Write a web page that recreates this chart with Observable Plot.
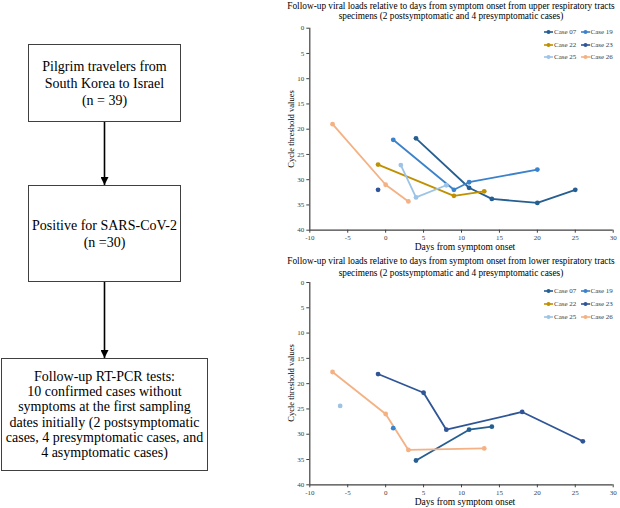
<!DOCTYPE html>
<html>
<head>
<meta charset="utf-8">
<script src="https://cdn.jsdelivr.net/npm/d3@7"></script>
<script src="https://cdn.jsdelivr.net/npm/@observablehq/plot@0.6"></script>
<style>
  html, body { margin: 0; padding: 0; background: #fff; }
  #root { position: relative; width: 620px; height: 508px; overflow: hidden; font-family: "Liberation Serif", "Times New Roman", serif; color: #000; }
  .box { position: absolute; border: 1px solid #404040; box-sizing: border-box; display: flex; align-items: center; justify-content: center; text-align: center; font-size: 14px; }
  .t { position: absolute; white-space: nowrap; transform: translate(-50%, -50%); }
  .leg { position: absolute; font-size: 7px; color: #404040; white-space: nowrap; display: flex; align-items: center; }
  .plot { position: absolute; }
  #root svg text { font-family: "Liberation Serif", "Times New Roman", serif; }
</style>
</head>
<body>
<div id="root"></div>
<script>
// ---------- data ----------
const cases = ["Case 07", "Case 19", "Case 22", "Case 23", "Case 25", "Case 26"];
const caseColors = ["#255E91", "#3A82CB", "#BF9000", "#2F5597", "#9DC3E6", "#F4B183"];
const xTicks = [-10, -5, 0, 5, 10, 15, 20, 25, 30];
const yTicks = [0, 5, 10, 15, 20, 25, 30, 35, 40];

// Upper respiratory tract specimens (days from symptom onset, Ct value)
const upper07Days = [4, 11, 14, 20, 25];
const upper07Ct   = [21.8, 31.6, 33.8, 34.6, 32.0];
const upper19Days = [1, 9, 11, 20];
const upper19Ct   = [22.1, 32.0, 30.5, 28.0];
const upper22Days = [-1, 9, 13];
const upper22Ct   = [27.0, 33.2, 32.3];
const upper23Days = [-1];
const upper23Ct   = [32.0];
const upper25Days = [2, 4, 8];
const upper25Ct   = [27.1, 33.5, 31.1];
const upper26Days = [-7, 0, 3];
const upper26Ct   = [19.0, 31.0, 34.3];

// Lower respiratory tract specimens
const lower07Days = [4, 11, 14];
const lower07Ct   = [35.2, 29.1, 28.5];
const lower19Days = [1];
const lower19Ct   = [28.8];
const lower23Days = [-1, 5, 8, 18, 26];
const lower23Ct   = [18.1, 21.8, 29.1, 25.6, 31.4];
const lower25Days = [-6];
const lower25Ct   = [24.4];
const lower26Days = [-7, 0, 3, 13];
const lower26Ct   = [17.7, 26.0, 33.1, 32.8];

const title1 = ["Follow-up viral loads relative to days from symptom onset from upper respiratory tracts",
                "specimens (2 postsymptomatic and 4 presymptomatic cases)"];
const title2 = ["Follow-up viral loads relative to days from symptom onset from lower respiratory tracts",
                "specimens (2 postsymptomatic and 4 presymptomatic cases)"];
const xLabel = "Days from symptom onset";
const yLabel = "Cycle threshold values";
const flowTexts = [
  ["Pilgrim travelers from", "South Korea to Israel", "(n = 39)"],
  ["Positive for SARS-CoV-2", "(n =30)"],
  ["Follow-up RT-PCR tests:", "10 confirmed cases without", "symptoms at the first sampling", "dates initially (2 postsymptomatic", "cases, 4 presymptomatic cases, and", "4 asymptomatic cases)"]
];

function rows(name, days, cts) { return days.map((d, i) => ({case: name, day: d, ct: cts[i]})); }
const upperRows = [
  ...rows("Case 07", upper07Days, upper07Ct),
  ...rows("Case 19", upper19Days, upper19Ct),
  ...rows("Case 22", upper22Days, upper22Ct),
  ...rows("Case 23", upper23Days, upper23Ct),
  ...rows("Case 25", upper25Days, upper25Ct),
  ...rows("Case 26", upper26Days, upper26Ct)
];
const lowerRows = [
  ...rows("Case 07", lower07Days, lower07Ct),
  ...rows("Case 19", lower19Days, lower19Ct),
  ...rows("Case 23", lower23Days, lower23Ct),
  ...rows("Case 25", lower25Days, lower25Ct),
  ...rows("Case 26", lower26Days, lower26Ct)
];

// ---------- layout ----------
const root = document.getElementById("root");
const serif = "Liberation Serif, Times New Roman, serif";
function el(tag, cls, css, html) {
  const e = document.createElement(tag);
  if (cls) e.className = cls;
  Object.assign(e.style, css || {});
  if (html != null) e.innerHTML = html;
  root.appendChild(e);
  return e;
}

// flowchart
const boxes = [
  {left: 28, top: 44, width: 153, height: 78, lh: 17},
  {left: 28, top: 185, width: 153, height: 97, lh: 17},
  {left: 1, top: 358, width: 207, height: 113, lh: 15.3}
];
boxes.forEach((b, i) => {
  el("div", "box", {left: b.left + "px", top: b.top + "px", width: b.width + "px", height: b.height + "px", lineHeight: b.lh + "px"},
     "<div>" + flowTexts[i].join("<br>") + "</div>");
});
const arrows = el("div", null, {position: "absolute", left: "0px", top: "0px"});
arrows.innerHTML = `<svg width="220" height="508" style="position:absolute;left:0;top:0">
  <defs><marker id="ah" viewBox="0 0 10 10" refX="10" refY="5" markerWidth="5" markerHeight="5" orient="auto">
  <path d="M0,0 L10,5 L0,10 z" fill="#000"/></marker></defs>
  <line x1="104.5" y1="122" x2="104.5" y2="185" stroke="#000" stroke-width="1.6" marker-end="url(#ah)"/>
  <line x1="104.5" y1="282" x2="104.5" y2="358" stroke="#000" stroke-width="1.6" marker-end="url(#ah)"/>
</svg>`;

// charts
function chart(data, top, mTop, mBottom, height) {
  const p = Plot.plot({
    width: 340, height: height,
    marginLeft: 29.3, marginRight: 7.3, marginTop: mTop, marginBottom: mBottom,
    x: {domain: [-10, 30], ticks: xTicks},
    y: {domain: [0, 40], reverse: true, ticks: yTicks},
    color: {domain: cases, range: caseColors},
    style: {fontFamily: serif, fontSize: "7px", color: "#404040", background: "transparent", overflow: "visible"},
    marks: [
      Plot.axisX({ticks: xTicks, tickSize: 3, tickPadding: 2, label: null, stroke: "#404040", fill: "#404040", fontFamily: serif, fontSize: 7, tickFormat: d => d}),
      Plot.axisY({ticks: yTicks, tickSize: 3, tickPadding: 2.5, label: null, stroke: "#404040", fill: "#404040", fontFamily: serif, fontSize: 7, tickFormat: d => d}),
      Plot.ruleX([-10], {stroke: "#404040", strokeWidth: 1.2}),
      Plot.ruleY([40], {stroke: "#404040", strokeWidth: 1.2}),
      Plot.line(data, {x: "day", y: "ct", z: "case", stroke: "case", strokeWidth: 1.8}),
      Plot.dot(data, {x: "day", y: "ct", fill: "case", r: 2.4})
    ]
  });
  p.classList.add("plot");
  p.style.left = "280px";
  p.style.top = top + "px";
  root.appendChild(p);
}
chart(upperRows, 0, 27.7, 15.3, 245);
chart(lowerRows, 254, 28, 14.7, 245);

// titles and axis labels
function titles(lines, y1, y2) {
  el("div", "t", {left: "451px", top: y1 + "px", fontSize: "9.3px"}, lines[0]);
  el("div", "t", {left: "451px", top: y2 + "px", fontSize: "9.3px"}, lines[1]);
}
titles(title1, 5.5, 16);
titles(title2, 261, 272.5);
el("div", "t", {left: "465px", top: "247px", fontSize: "9.5px"}, xLabel);
el("div", "t", {left: "465px", top: "502px", fontSize: "9.5px"}, xLabel);
el("div", "t", {left: "291px", top: "129px", fontSize: "8.5px", transform: "translate(-50%,-50%) rotate(-90deg)"}, yLabel);
el("div", "t", {left: "291px", top: "383px", fontSize: "8.5px", transform: "translate(-50%,-50%) rotate(-90deg)"}, yLabel);

// legends
function legend(rowsY) {
  const cols = [544, 580.5];
  cases.forEach((c, i) => {
    const col = i % 2, row = Math.floor(i / 2);
    const color = caseColors[i];
    el("div", "leg", {left: cols[col] + "px", top: (rowsY[row] - 5) + "px", height: "10px"},
      `<svg width="9" height="10" style="margin-right:1px"><line x1="0" y1="5" x2="9" y2="5" stroke="${color}" stroke-width="1.6"/><circle cx="4.5" cy="5" r="2" fill="${color}"/></svg>${c}`);
  });
}
legend([32.3, 44.5, 56.7]);
legend([291, 304, 317]);
</script>
</body>
</html>
